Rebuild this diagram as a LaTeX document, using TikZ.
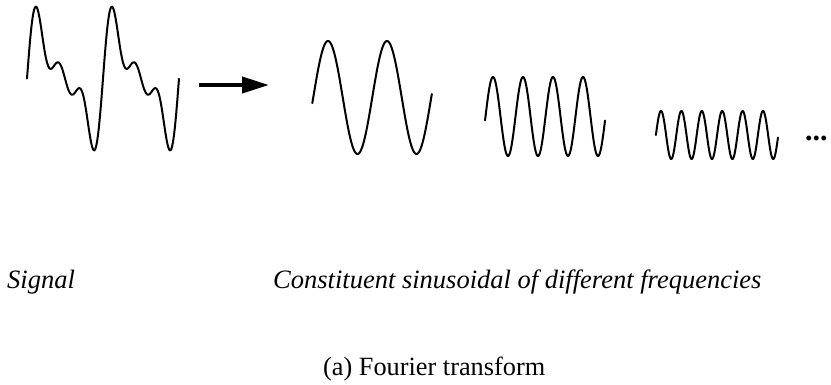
\documentclass[tikz,border=0pt]{standalone}
\usepackage{fontspec}
\setmainfont{Liberation Serif}
\usetikzlibrary{arrows.meta}
\begin{document}
\begin{tikzpicture}[x=1pt,y=-1pt,
  wave/.style={line width=2pt, line join=round, line cap=round},
  lbl/.style={font=\fontsize{26.5}{30}\selectfont\itshape, inner sep=0pt, anchor=base west},
  capt/.style={font=\fontsize{26.3}{30}\selectfont, inner sep=0pt, anchor=base west},
  arr/.style={line width=4pt, -{Triangle[length=27pt,width=16pt]}}]
\useasboundingbox (0,0) rectangle (831,384);
% signal
\draw[wave] plot[domain=0:12.566, samples=300, smooth]
  ({27+\x/6.2832*76}, {78.5-40.6*(sin(deg(\x))+0.7*sin(deg(2*\x))+0.5*sin(deg(3*\x)))});
% arrow
\coordinate (a1) at (199,85);
\coordinate (a2) at (269,85);
\draw[arr] (a1) -- (a2);
% sinusoid 1
\draw[wave] plot[domain=-0.1:12.63, samples=200, smooth]
  ({328+(\x-1.5708)/6.2832*59}, {97.5-56.5*sin(deg(\x))});
% sinusoid 2
\draw[wave] plot[domain=-0.1:25.03, samples=300, smooth]
  ({493+(\x-1.5708)/6.2832*30}, {116.5-39.5*sin(deg(\x))});
% sinusoid 3
\draw[wave] plot[domain=0:37.6, samples=400, smooth]
  ({661+(\x-1.5708)/6.2832*20.4}, {135-24*sin(deg(\x))});
% ellipsis
\node[capt, font=\fontsize{30}{34}\selectfont\bfseries] (dots) at (805,140) {...};
% labels
\node[lbl] (sig) at (7,288) {Signal};
\node[lbl] (cons) at (273,288) {Constituent sinusoidal of different frequencies};
\node[capt] (cap) at (323,375) {(a) Fourier transform};
\end{tikzpicture}
\end{document}
